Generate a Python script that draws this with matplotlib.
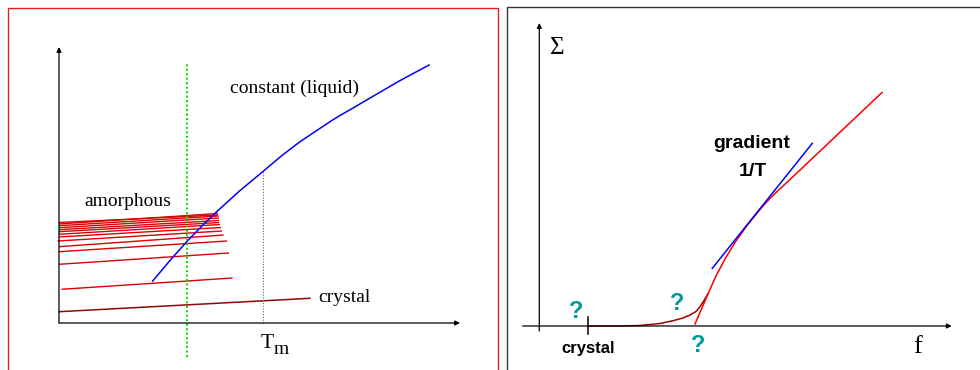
import numpy as np
import matplotlib
matplotlib.use("Agg")
import matplotlib.pyplot as plt
from matplotlib.patches import Rectangle

# ---- left panel: entropy-like curves vs temperature (origin at the axes corner)
liquid_x = [93.7, 110.7, 127.7, 142.7, 157.7, 180.7, 203.7, 222.3, 241.0, 274.3, 307.7, 338.8, 370.0]
liquid_y = [42.0, 62.2, 81.3, 96.8, 111.3, 132.2, 151.3, 167.0, 181.3, 203.5, 223.0, 241.2, 258.0]

# quenched amorphous branches: start (x0, y0) -> end (x1, y1)
amorph_x0 = [0, 0, 0, 0, 0, 0, 0, 0, -1.5, 0, 0, 0, 2.5]
amorph_y0 = [100.5, 99.0, 97.3, 95.3, 93.3, 91.3, 88.7, 86.0, 82.0, 76.3, 71.3, 58.7, 33.7]
amorph_x1 = [159, 159, 159.5, 160, 160, 160.5, 161, 162, 163, 164.5, 168, 170, 173.5]
amorph_y1 = [108, 109.5, 107, 105, 102.5, 100.5, 98.5, 95.5, 92, 88, 82, 70, 45]

crystal_x = [0.3, 251.0]
crystal_y = [11.3, 24.7]

t_glass = 128.0   # green dotted marker
t_melt = 204.0    # T_m
t_melt_y = 151.3

# ---- right panel: Sigma(f)
sigma_f = [155.7, 169.0, 176.7, 185.7, 195.7, 206.7, 212.0, 217.4, 222.0, 226.7,
           232.0, 237.7, 244.0, 250.7, 342.7]
sigma_v = [2.0, 32.7, 50.0, 67.0, 83.5, 99.0, 105.9, 112.5, 118.0, 123.3,
           128.9, 134.4, 140.3, 146.5, 233.5]

low_f = [48.7, 80.7, 100.7, 120.7, 133.7, 143.7, 150.7, 156.7, 160.7, 164.7, 169.0]
low_v = [0.0, 0.0, 0.5, 2.5, 5.3, 8.0, 11.0, 14.5, 19.3, 25.5, 32.7]

tangent_f = [173.0, 273.0]
tangent_v = [57.7, 182.7]

f_crystal = 49.0

SERIF = "Liberation Serif"
SANS = "Liberation Sans"
TEAL = "#009a9a"

arrow_style = dict(arrowstyle="-|>", mutation_scale=7, lw=0.9, color="black",
                   shrinkA=0, shrinkB=0)

fig = plt.figure(figsize=(9.8, 3.7), dpi=100)
fig.patch.set_facecolor("white")

# left panel
ax1 = fig.add_axes([0, 0, 500 / 980, 1])
ax1.set_xlim(-59, 441)
ax1.set_ylim(-47, 323)
ax1.axis("off")

ax1.annotate("", xy=(401, 0), xytext=(0, 0), arrowprops=arrow_style)
ax1.annotate("", xy=(0, 276), xytext=(0, 0), arrowprops=arrow_style)

for x0, y0, x1, y1 in zip(amorph_x0, amorph_y0, amorph_x1, amorph_y1):
    ax1.plot([x0, x1], [y0, y1], color="#dd0000", lw=1.0, solid_capstyle="butt")

ax1.plot(crystal_x, crystal_y, color="#8b0a0a", lw=1.1)
ax1.plot(liquid_x, liquid_y, color="#0000ff", lw=1.1)

ax1.plot([t_glass, t_glass], [-34, 261], color="#00dd00", lw=1.4,
         linestyle=(0, (1, 1.3)), clip_on=False)
ax1.plot([t_melt, t_melt], [0, t_melt_y], color="#666666", lw=0.8,
         linestyle=(0, (1, 1.5)))

ax1.text(171, 235, "constant (liquid)", family=SERIF, fontsize=14, va="center", ha="left")
ax1.text(25, 121, "amorphous", family=SERIF, fontsize=14, va="center", ha="left")
ax1.text(259, 25, "crystal", family=SERIF, fontsize=14, va="center", ha="left")
ax1.text(202, -21, "T", family=SERIF, fontsize=15.5, va="center", ha="left")
ax1.text(215, -27, "m", family=SERIF, fontsize=14, va="center", ha="left")

# right panel
ax2 = fig.add_axes([500 / 980, 0, 480 / 980, 1])
ax2.set_xlim(-39.3, 440.7)
ax2.set_ylim(-44, 326)
ax2.axis("off")

ax2.annotate("", xy=(412.4, 0), xytext=(-16.6, 0), arrowprops=arrow_style)
ax2.annotate("", xy=(0, 303), xytext=(0, -5), arrowprops=arrow_style)
ax2.plot([f_crystal, f_crystal], [-8, 9], color="black", lw=1.1)

ax2.plot(low_f, low_v, color="#a00000", lw=1.1)
ax2.plot(sigma_f, sigma_v, color="#ff0000", lw=1.1)
ax2.plot(tangent_f, tangent_v, color="#0000ff", lw=1.1)

ax2.text(17.7, 278, "Σ", family=SERIF, fontsize=18, va="center", ha="center")
ax2.text(378.2, -21, "f", family=SERIF, fontsize=19, va="center", ha="center")
ax2.text(49, -22.3, "crystal", family=SANS, fontweight="bold", fontsize=12,
         va="center", ha="center")
ax2.text(212.2, 182, "gradient", family=SANS, fontweight="bold", fontsize=14,
         va="center", ha="center")
ax2.text(213.7, 154, "1/T", family=SANS, fontweight="bold", fontsize=14,
         va="center", ha="center")
for qx, qy in [(36.7, 15), (137.7, 22.7), (158.7, -19.5)]:
    ax2.text(qx, qy, "?", family=SANS, fontweight="bold", fontsize=17,
             color=TEAL, va="center", ha="center")

# panel frames
fig.add_artist(Rectangle((8 / 980, -0.1), 490 / 980, 362 / 370 + 0.1,
                         transform=fig.transFigure, fill=False,
                         ec="#e02020", lw=1.0))
fig.add_artist(Rectangle((507 / 980, -0.1), 0.6, 363 / 370 + 0.1,
                         transform=fig.transFigure, fill=False,
                         ec="#333333", lw=1.0))

fig.savefig("out.png", dpi=100)
